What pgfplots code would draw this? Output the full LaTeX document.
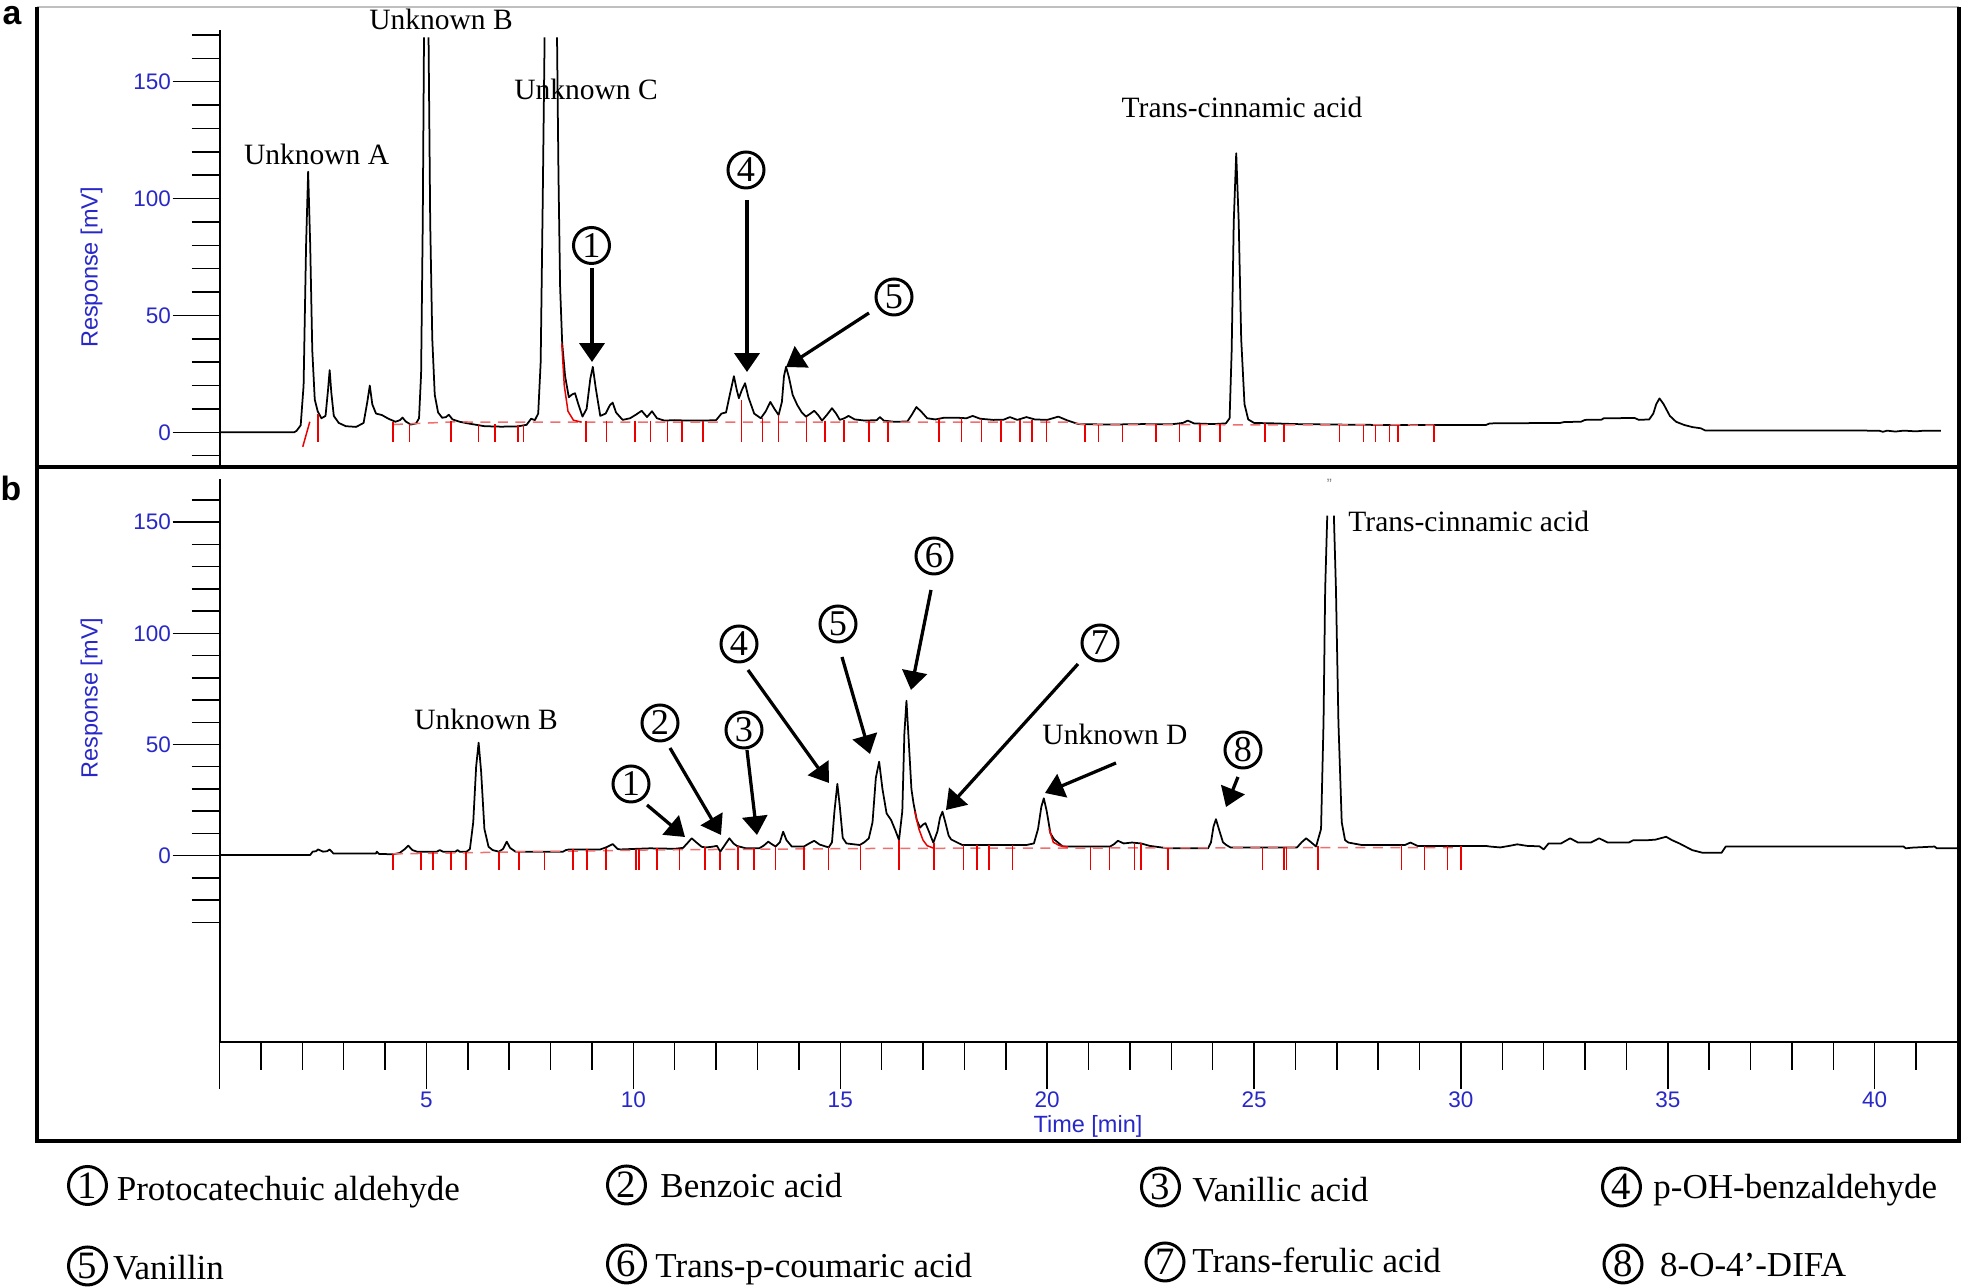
\documentclass[border=0pt]{standalone}
\usepackage{pgfplots}
\pgfplotsset{compat=1.18}
\usetikzlibrary{arrows.meta}
\usepackage{fontspec}
\setmainfont{Liberation Serif}
\setsansfont{Liberation Sans}
\definecolor{tickblue}{RGB}{40,40,200}
\definecolor{intred}{RGB}{235,0,0}
\definecolor{basered}{RGB}{240,110,110}
\pgfplotsset{
 chrom/.style={
  scale only axis, width=695.13pt, xmin=0, xmax=42, clip=false,
  tick align=outside, major tick length=18.8pt, minor tick length=11.2pt,
  tick style={black, line width=0.6pt},
  axis line style={black, line width=0.8pt},
  ytick={0,50,100,150},
  /pgf/number format/assume math mode=true,
  ticklabel style={font=\sffamily\fontsize{9}{10}\selectfont, text=tickblue},
  yticklabel style={inner sep=0.5pt},
  xticklabel style={inner sep=0.5pt, yshift=-0.5pt},
  unbounded coords=jump,
 },
 trace/.style={black, line width=0.7pt, line join=round, mark=none},
 integ/.style={intred, line width=0.6pt, mark=none},
 basel/.style={basered, dash pattern=on 4pt off 3pt, line width=0.6pt, mark=none},
}
\tikzset{
 circ/.style={circle, draw, line width=1.2pt, minimum size=14.4pt, inner sep=0pt, font=\fontsize{14.5}{15}\selectfont},
 lcirc/.style={circle, draw, line width=1.2pt, minimum size=15.2pt, inner sep=0pt, font=\fontsize{15.5}{16}\selectfont},
 arr/.style={line width=1.3pt, -{Triangle[length=7.5pt,width=10pt]}},
 lab/.style={anchor=base, font=\fontsize{11.8}{13}\selectfont, inner sep=0pt},
 leg/.style={anchor=base west, font=\fontsize{14}{16}\selectfont, inner sep=0pt},
}
\begin{document}
\begin{tikzpicture}
\path[use as bounding box] (0,0) rectangle (784.4pt,514.4pt);
% ---------------- panel a ----------------
\begin{axis}[chrom, at={(87.84pt,328.4pt)}, anchor=south west,
  height=173.87pt, ymin=-14, ymax=172,
  axis x line=none, axis y line*=left,
  minor ytick={-10,10,20,30,40,60,70,80,90,110,120,130,140,160,170}]
\addplot[trace] table {
x y
0 0
1.80 0
1.86 0.6
1.96 3
2.03 20
2.09 80
2.14 111.5
2.19 80
2.24 35
2.30 14
2.37 9
2.46 6
2.56 7
2.62 18
2.66 26.6
2.70 17
2.76 7
2.88 4
3.05 2.6
3.30 2.3
3.48 4
3.57 13
3.63 20
3.69 12
3.78 8
3.92 7.4
4.08 5.8
4.25 4.5
4.36 5.2
4.42 6.3
4.50 4.6
4.62 3.3
4.75 3.8
4.82 6
4.87 25
4.91 90
4.94 169
4.99 nan
5.05 169
5.09 90
5.14 40
5.20 16
5.28 8.5
5.38 6.2
5.47 6.5
5.54 7.5
5.63 5.5
5.80 4.5
6.00 3.8
6.20 3.2
6.40 2.6
6.80 2.4
7.20 2.5
7.42 3.2
7.53 5.8
7.62 5.2
7.70 8
7.76 30
7.81 100
7.855 169
8.0 nan
8.155 169
8.19 110
8.23 62
8.28 38
8.35 24
8.44 15
8.52 16.2
8.59 16.7
8.67 12
8.77 6.7
8.87 10
8.96 23
9.02 28
9.09 19
9.20 7
9.33 8
9.43 11.5
9.50 12.7
9.58 8.5
9.74 5.3
9.92 6
10.06 7.5
10.20 9.2
10.33 6.5
10.45 9
10.57 6
10.75 5
11.00 5.2
11.30 5
11.70 5
12.00 5.2
12.13 8
12.24 8.5
12.33 16
12.43 24
12.50 18
12.55 14.6
12.62 18
12.70 21
12.78 15
12.92 8
13.08 6
13.20 9
13.31 13
13.41 10
13.51 7.4
13.59 13
13.64 24
13.69 28
13.76 23.5
13.85 16
13.96 11.7
14.07 8.5
14.17 6.7
14.28 8
14.37 9.2
14.46 7.5
14.56 5
14.68 7.5
14.80 10.3
14.90 8
14.99 5.3
15.10 6
15.20 7
15.35 5.5
15.60 5
15.88 5.2
15.96 6.5
16.05 5
16.30 4.5
16.62 4.6
16.73 7.5
16.84 10.8
16.96 8.8
17.10 6
17.30 5.5
17.50 6.2
17.85 6.2
18.05 6
18.20 7
18.38 5.8
18.70 5.3
18.95 5.4
19.10 6.5
19.28 5.3
19.50 6.5
19.70 5.5
20.00 5.3
20.27 6.7
20.50 5
20.76 3.5
21.50 3.3
22.30 3.5
23.00 3.4
23.28 4
23.40 5
23.55 3.8
24.00 3.5
24.32 3.8
24.41 6
24.46 35
24.51 90
24.57 119.4
24.63 90
24.69 40
24.77 12
24.86 5.5
25.00 4
25.50 3.8
26.00 3.5
26.50 3.4
27.00 3.3
27.50 3.2
28.50 3.1
30.60 3.1
30.70 3.8
31.50 3.9
32.40 4
32.50 4.4
32.90 4.5
33.00 5.3
33.40 5.4
33.45 6
34.20 6.1
34.30 5.3
34.55 5.5
34.65 8
34.72 12
34.80 14.5
34.90 12
35.05 7
35.20 4.5
35.40 3.1
35.60 2.2
35.80 1.7
35.90 0.8
40.10 0.7
40.20 0.2
40.30 0.7
40.50 0.3
40.70 0.7
41.00 0.4
41.20 0.7
41.60 0.7
};
\addplot[basel] table {
x y
4.19 3.3
5.6 4.4
20.5 4.3
20.9 3.3
29.35 3.1
};
\addplot[integ] table {
x y
8.27 38
8.33 20
8.42 9
8.55 5.2
8.75 4.3
};
\addplot[integ] table {
x y
2.01 -6.2
2.18 4.5
};
\addplot[integ] table {
x y
2.38 8
2.38 -4.3
2.38 nan
4.19 4.5
4.19 -4.3
4.19 nan
4.59 3.5
4.59 -4.3
4.59 nan
5.59 5
5.59 -4.3
5.59 nan
6.26 3.5
6.26 -4.3
6.26 nan
6.65 3.5
6.65 -4.3
6.65 nan
7.21 3.3
7.21 -4.3
7.21 nan
7.34 3.3
7.34 -4.3
7.34 nan
8.86 5
8.86 -4.3
8.86 nan
9.35 5
9.35 -4.3
9.35 nan
10.04 5
10.04 -4.3
10.04 nan
10.41 5
10.41 -4.3
10.41 nan
10.83 5
10.83 -4.3
10.83 nan
11.17 5
11.17 -4.3
11.17 nan
11.68 5
11.68 -4.3
11.68 nan
12.61 14
12.61 -4.3
12.61 nan
13.12 6
13.12 -4.3
13.12 nan
13.51 7.4
13.51 -4.3
13.51 nan
14.18 6.7
14.18 -4.3
14.18 nan
14.63 5
14.63 -4.3
14.63 nan
15.09 5.3
15.09 -4.3
15.09 nan
15.69 5
15.69 -4.3
15.69 nan
16.15 4.5
16.15 -4.3
16.15 nan
17.39 5.5
17.39 -4.3
17.39 nan
17.93 6
17.93 -4.3
17.93 nan
18.41 5.8
18.41 -4.3
18.41 nan
18.89 5.3
18.89 -4.3
18.89 nan
19.35 5.3
19.35 -4.3
19.35 nan
19.64 5.3
19.64 -4.3
19.64 nan
19.98 5.3
19.98 -4.3
19.98 nan
20.92 3.3
20.92 -4.3
20.92 nan
21.24 3.3
21.24 -4.3
21.24 nan
21.82 3.3
21.82 -4.3
21.82 nan
22.63 3.4
22.63 -4.3
22.63 nan
23.20 3.4
23.20 -4.3
23.20 nan
23.69 3.5
23.69 -4.3
23.69 nan
24.18 3.5
24.18 -4.3
24.18 nan
25.27 3.8
25.27 -4.3
25.27 nan
25.72 3.6
25.72 -4.3
25.72 nan
27.07 3.3
27.07 -4.3
27.07 nan
27.64 3.2
27.64 -4.3
27.64 nan
27.94 3.2
27.94 -4.3
27.94 nan
28.27 3.2
28.27 -4.3
28.27 nan
28.48 3.2
28.48 -4.3
28.48 nan
29.35 3.1
29.35 -4.3
29.35 nan
};
\end{axis}
% ---------------- panel b ----------------
\begin{axis}[chrom, at={(87.84pt,97.72pt)}, anchor=south west,
  height=224.94pt, ymin=-83.7, ymax=169.3,
  axis x line*=bottom, axis y line*=left,
  xtick={0,5,...,40}, xticklabels={,5,10,15,20,25,30,35,40},
  minor xtick={0,1,...,41},
  minor ytick={-30,-20,-10,10,20,30,40,60,70,80,90,110,120,130,140,160}]
\addplot[trace] table {
x y
0 0.3
2.19 0.3
2.25 1.8
2.33 2.0
2.38 2.8
2.50 1.8
2.60 2
2.66 2.8
2.75 1
3.50 1
3.78 1
3.80 1.8
3.85 0.8
4.19 0.6
4.35 1.2
4.48 3
4.56 4.5
4.66 2.5
4.77 1.8
5.25 1.8
5.32 2.5
5.40 1.8
5.70 1.8
5.75 2.5
5.80 1.8
5.97 1.8
6.05 3
6.13 15
6.20 40
6.26 50.8
6.32 38
6.40 12
6.50 4
6.60 2.5
6.75 1.8
6.85 3
6.94 6.3
7.02 3.5
7.15 1.8
8.30 1.8
8.37 2.5
8.45 2.8
9.20 2.8
9.35 3.8
9.50 5.2
9.62 3
9.69 2.8
10.40 3.3
11.00 3.1
11.20 3.5
11.30 5.5
11.41 7.8
11.52 6
11.65 4
11.75 3.7
11.90 4
12.02 4.4
12.10 1.8
12.20 4.5
12.32 7.8
12.42 5.5
12.50 4.4
12.72 3.3
13.04 3.3
13.15 4.5
13.26 6.3
13.36 5
13.44 4.1
13.54 6
13.62 10.8
13.70 7
13.83 4.1
14.12 4.1
14.25 5.5
14.37 6.7
14.50 5
14.72 3.7
14.80 6
14.86 20
14.93 32.3
14.99 22
15.06 8
15.15 5.5
15.47 4.8
15.58 6
15.69 7.8
15.78 15
15.86 35
15.94 42.3
16.02 30
16.12 19
16.23 16
16.34 11
16.42 7
16.50 20
16.55 55
16.60 69.7
16.66 50
16.72 30
16.77 23.6
16.85 16
16.93 12.6
17.00 14
17.06 14.6
17.14 11
17.25 5.8
17.35 11
17.41 17
17.47 19.8
17.54 15
17.62 9
17.68 7.3
17.84 5.8
17.95 4.8
19.50 4.8
19.68 5.5
19.78 12
19.86 22
19.92 25.8
19.99 20
20.08 10
20.17 7.3
20.38 4.1
21.52 4.1
21.62 5.2
21.71 6.7
21.85 5.5
22.05 5.9
22.27 5.5
22.48 4.4
22.92 3.3
23.89 3.3
23.96 6
24.02 13
24.08 16.4
24.15 12
24.25 6
24.33 4.8
24.43 3.7
26.04 3.7
26.15 6
26.26 7.8
26.38 6
26.50 4.1
26.62 12
26.68 60
26.72 120
26.77 153
26.85 nan
26.93 153
26.98 120
27.04 60
27.12 15
27.20 7
27.28 5.9
27.60 4.8
28.65 4.8
28.78 5.9
28.95 4.4
30.60 4.4
30.70 4.1
30.95 3.7
31.20 4.5
31.36 5.1
31.60 4.4
31.90 4.2
32.00 2.8
32.12 5.5
32.42 5.5
32.64 7.8
32.83 5.9
33.14 5.9
33.34 7.8
33.55 5.9
34.06 5.9
34.16 6.9
34.47 6.9
34.70 7.2
34.96 8.5
35.10 7
35.28 5.5
35.59 2.5
35.84 1.3
36.30 1.3
36.40 4.1
40.70 4.1
40.75 3.3
40.90 3.6
41.45 4.1
41.50 3.3
42.00 3.3
};
\addplot[basel] table {
x y
4.19 0.8
10.5 2.6
16.4 3.3
26.6 3.6
30.0 3.6
};
\addplot[integ] table {
x y
16.80 20
16.90 12
17.00 7
17.10 4.5
17.25 3.4
};
\addplot[integ] table {
x y
20.05 12
20.15 6
20.30 4.5
20.50 3.9
};
\addplot[integ] table {
x y
4.19 0.8
4.19 -6.5
4.19 nan
4.87 1.8
4.87 -6.5
4.87 nan
5.16 1.8
5.16 -6.5
5.16 nan
5.59 1.8
5.59 -6.5
5.59 nan
5.95 1.8
5.95 -6.5
5.95 nan
6.75 1.8
6.75 -6.5
6.75 nan
7.24 1.8
7.24 -6.5
7.24 nan
7.85 1.8
7.85 -6.5
7.85 nan
8.54 2.8
8.54 -6.5
8.54 nan
8.88 2.8
8.88 -6.5
8.88 nan
9.34 3.5
9.34 -6.5
9.34 nan
10.06 3
10.06 -6.5
10.06 nan
10.14 3
10.14 -6.5
10.14 nan
10.57 3.3
10.57 -6.5
10.57 nan
11.11 3.1
11.11 -6.5
11.11 nan
11.73 3.7
11.73 -6.5
11.73 nan
12.09 1.8
12.09 -6.5
12.09 nan
12.53 4.4
12.53 -6.5
12.53 nan
12.91 3.3
12.91 -6.5
12.91 nan
13.44 4.1
13.44 -6.5
13.44 nan
14.12 4.1
14.12 -6.5
14.12 nan
14.72 3.7
14.72 -6.5
14.72 nan
15.49 4.8
15.49 -6.5
15.49 nan
16.42 7
16.42 -6.5
16.42 nan
17.27 5.8
17.27 -6.5
17.27 nan
17.98 4.8
17.98 -6.5
17.98 nan
18.31 4.8
18.31 -6.5
18.31 nan
18.60 4.8
18.60 -6.5
18.60 nan
19.16 4.8
19.16 -6.5
19.16 nan
21.05 4.1
21.05 -6.5
21.05 nan
21.51 4.1
21.51 -6.5
21.51 nan
22.11 5.8
22.11 -6.5
22.11 nan
22.27 5.5
22.27 -6.5
22.27 nan
22.92 3.3
22.92 -6.5
22.92 nan
25.20 3.7
25.20 -6.5
25.20 nan
25.72 3.7
25.72 -6.5
25.72 nan
25.78 3.7
25.78 -6.5
25.78 nan
26.55 4.5
26.55 -6.5
26.55 nan
28.56 4.8
28.56 -6.5
28.56 nan
29.12 4.4
29.12 -6.5
29.12 nan
29.68 4.4
29.68 -6.5
29.68 nan
30.00 4.4
30.00 -6.5
30.00 nan
};
\end{axis}
% ---------------- frame and annotations (pixel units) ----------------
\begin{scope}[x=0.4pt,y=-0.4pt,shift={(0pt,514.4pt)}]
\draw[black!25, line width=0.5pt] (37,7) -- (1959,7);
\draw[line width=1.6pt] (37,7) -- (37,1141.5) -- (1959,1141.5) -- (1959,7);
\draw[line width=1.6pt] (37,467) -- (1959,467);
\node[font=\sffamily\bfseries\fontsize{13.5}{15}\selectfont, inner sep=0pt] at (12,16) {a};
\node[font=\sffamily\bfseries\fontsize{13.5}{15}\selectfont, inner sep=0pt] at (11,488) {b};
\node[rotate=90, font=\sffamily\fontsize{9.4}{10}\selectfont, text=tickblue, inner sep=0pt] at (91.5,267.5) {Response [mV]};
\node[rotate=90, font=\sffamily\fontsize{9.4}{10}\selectfont, text=tickblue, inner sep=0pt] at (91.5,698) {Response [mV]};
\node[font=\sffamily\fontsize{9.4}{10}\selectfont, text=tickblue, inner sep=0pt] at (1088,1126) {Time [min]};
% panel a
\node[lab] at (316.6,165) {Unknown A};
\node[lab] at (441,30) {Unknown B};
\node[lab] at (586,100) {Unknown C};
\node[lab] at (1242,118) {Trans-cinnamic acid};
\node[circ] at (591.5,245.5) {1};
\draw[arr] (592,268) -- (592,362);
\node[circ] at (746,170) {4};
\draw[arr] (747,200) -- (747,372);
\node[circ] at (894,297) {5};
\draw[arr] (869,313) -- (786,367);
% panel b
\node[lab] at (486,730) {Unknown B};
\node[circ] at (631,784) {1}; \draw[arr] (647,805) -- (685,837);
\node[circ] at (660,723) {2}; \draw[arr] (670,748) -- (721,835);
\node[circ] at (744,730) {3}; \draw[arr] (747,750) -- (757,835);
\node[circ] at (739,644) {4}; \draw[arr] (748,670) -- (829,783);
\node[circ] at (838,624) {5}; \draw[arr] (842,657) -- (870,754);
\node[circ] at (934,556) {6}; \draw[arr] (931,590) -- (911,690);
\node[circ] at (1100,643) {7}; \draw[arr] (1078,664) -- (946,810);
\node[lab] at (1115,745) {Unknown D}; \draw[arr] (1116,763) -- (1045,793);
\node[circ] at (1243,750) {8}; \draw[arr] (1238,777) -- (1226,807);
\node[lab, anchor=base west] at (1348,532) {Trans-cinnamic acid};
\node[font=\sffamily\fontsize{6}{6}\selectfont, text=black!50, inner sep=0pt] at (1329.5,484) {''};
% legend
\node[lcirc] at (87.5,1185.5) {1}; \node[leg] at (116.3,1201) {Protocatechuic aldehyde};
\node[lcirc] at (626.5,1185) {2}; \node[leg] at (660,1198) {Benzoic acid};
\node[lcirc] at (1160.5,1187) {3}; \node[leg] at (1192,1202) {Vanillic acid};
\node[lcirc] at (1621.5,1187) {4}; \node[leg] at (1653,1199) {p-OH-benzaldehyde};
\node[lcirc] at (87.5,1266) {5}; \node[leg] at (112.6,1280) {Vanillin};
\node[lcirc] at (626.5,1264) {6}; \node[leg] at (655,1278) {Trans-p-coumaric acid};
\node[lcirc] at (1165,1262) {7}; \node[leg] at (1192,1273) {Trans-ferulic acid};
\node[lcirc] at (1623,1264) {8}; \node[leg] at (1659.6,1277) {8-O-4’-DIFA};
\end{scope}
\end{tikzpicture}
\end{document}
